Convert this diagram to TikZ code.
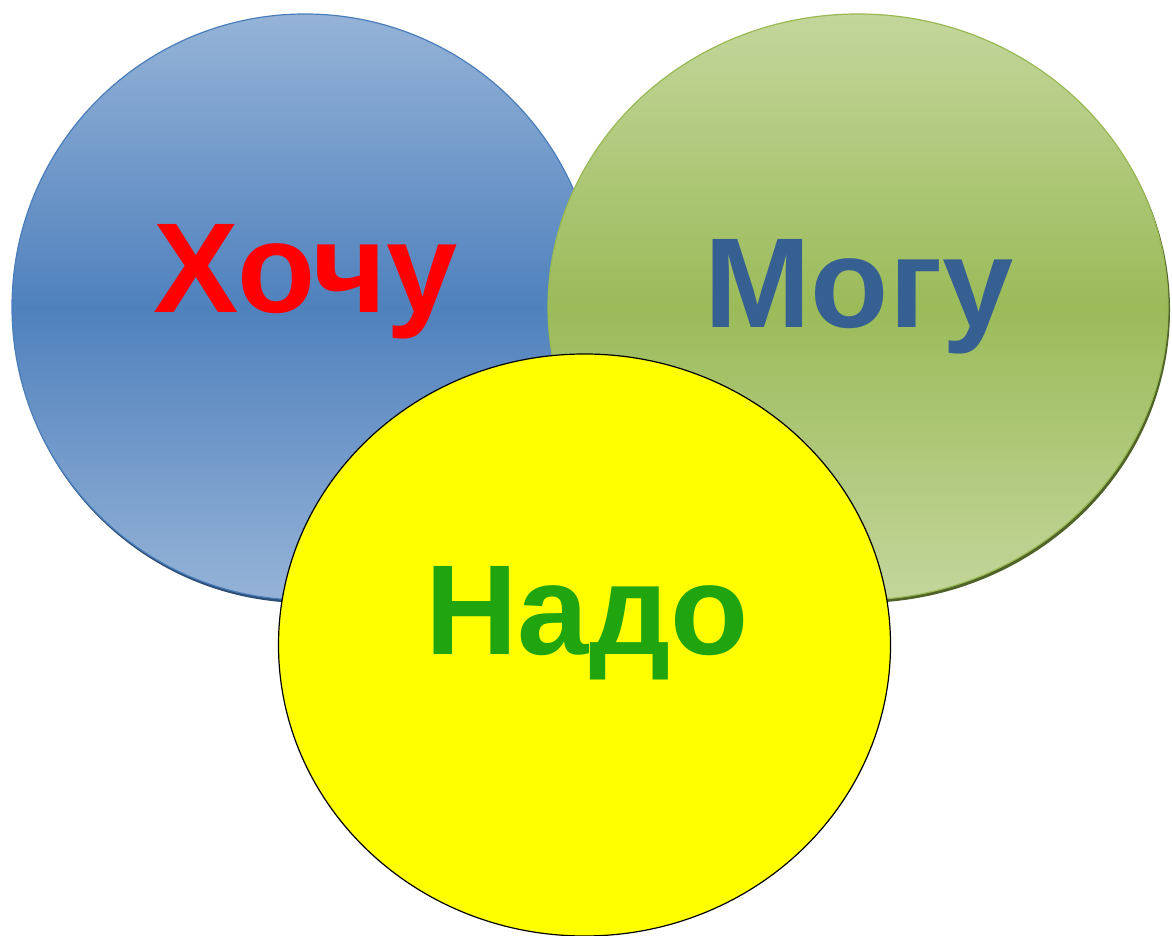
\documentclass[tikz,border=0pt]{standalone}
\usepackage{fontspec}
\setmainfont{Liberation Sans}
\usetikzlibrary{shapes.geometric}
\definecolor{bluetop}{HTML}{95B3D7}
\definecolor{bluemid}{HTML}{4F81BD}
\definecolor{blueline}{HTML}{4A7EBB}
\definecolor{blueshadow}{HTML}{2C4D75}
\definecolor{greentop}{HTML}{C3D69B}
\definecolor{greenmid}{HTML}{9BBB59}
\definecolor{greenline}{HTML}{98B954}
\definecolor{greenshadow}{HTML}{4F6228}
\definecolor{wantred}{HTML}{FF0000}
\definecolor{canblue}{HTML}{376092}
\definecolor{mustgreen}{HTML}{20A50E}
\definecolor{sunyellow}{HTML}{FFFF00}
\tikzset{
  blob/.style={ellipse, inner sep=0pt, outer sep=0pt},
  word/.style={anchor=base, inner sep=0pt, font=\bfseries\fontsize{128}{150}\selectfont}
}
\begin{document}
\begin{tikzpicture}[x=1pt,y=1pt]
\useasboundingbox (0,0) rectangle (1172,935);
% blue (Хочу)
\node[blob, fill=blueshadow, minimum width=586pt, minimum height=586pt] (blueshade) at (306,625) {};
\node[blob, draw=blueline, line width=1.2pt, top color=bluetop, bottom color=bluetop, middle color=bluemid, minimum width=586pt, minimum height=586pt] (want) at (305,628) {};
% green (Могу)
\node[blob, fill=greenshadow, minimum width=620pt, minimum height=586pt] (greenshade) at (860,625) {};
\node[blob, draw=greenline, line width=1.2pt, top color=greentop, bottom color=greentop, middle color=greenmid, minimum width=620pt, minimum height=586pt] (can) at (858,628) {};
% yellow (Надо)
\node[blob, draw=black, line width=1.2pt, fill=sunyellow, minimum width=612pt, minimum height=582pt] (must) at (584.5,290) {};
% labels
\node[word, text=wantred] (wanttext) at (306,622) {Хочу};
\node[word, text=canblue] (cantext) at (859,607) {Могу};
\node[word, text=mustgreen] (musttext) at (587,280) {Надо};
\end{tikzpicture}
\end{document}
